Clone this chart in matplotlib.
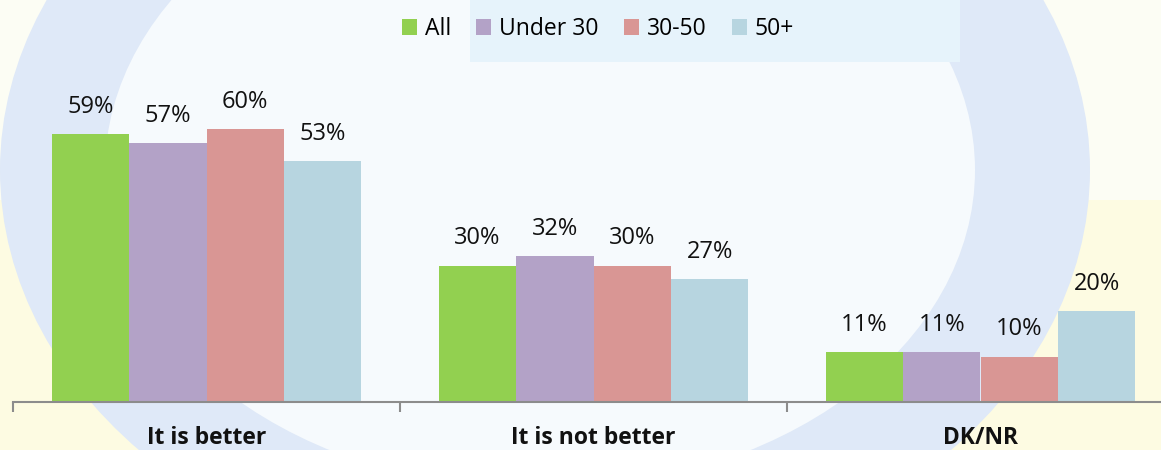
import numpy as np
from matplotlib import pyplot as plt
from matplotlib.patches import Ellipse, Rectangle

categories = ['It is better', 'It is not better', 'DK/NR']
series_names = ['All', 'Under 30', '30-50', '50+']
values_all = [59, 30, 11]
values_under30 = [57, 32, 11]
values_30_50 = [60, 30, 10]
values_50plus = [53, 27, 20]

series_values = [values_all, values_under30, values_30_50, values_50plus]
colors = ['#92D050', '#B3A2C7', '#D99694', '#B7D5E0']

plt.rcParams['font.family'] = ['Open Sans', 'DejaVu Sans']

W, H = 1161, 450
fig = plt.figure(figsize=(W / 100, H / 100), dpi=100)
fig.patch.set_facecolor('#fdfbe2')

# faint watermark-like background: pale yellow outside, light blue ring, whitish inside
bg = fig.add_axes([0, 0, 1, 1], zorder=-10)
bg.set_xlim(0, W)
bg.set_ylim(H, 0)
bg.axis('off')
bg.add_patch(Rectangle((0, 0), W, 200, color='#fcfdf4', lw=0))
bg.add_patch(Ellipse((545, 170), 1090, 840, color='#dfe9f8', lw=0))
bg.add_patch(Ellipse((540, 170), 870, 640, color='#f6fafd', lw=0))
bg.add_patch(Rectangle((470, 0), 490, 62, color='#e6f3fb', lw=0))

# plot area: left edge at x=13px, baseline at y=402px
left = 13 / W
bottom = (H - 402) / H
ax = fig.add_axes([left, bottom, 1 - left, 318.5 / H])
ax.patch.set_alpha(0)

n_series = len(series_values)
bar_w = 0.2
x = np.arange(len(categories))
for i, (vals, name, col) in enumerate(zip(series_values, series_names, colors)):
    pos = x + (i - (n_series - 1) / 2) * bar_w
    bars = ax.bar(pos, vals, width=bar_w, color=col, label=name, edgecolor='none')
    for b, v in zip(bars, vals):
        ax.text(b.get_x() + b.get_width() / 2, v + 3.3, f'{v}%',
                ha='center', va='bottom', fontsize=17, color='#111111')

for s in ['top', 'right', 'left']:
    ax.spines[s].set_visible(False)
ax.spines['bottom'].set_color('#8c8c8c')
ax.spines['bottom'].set_linewidth(1.5)
ax.set_yticks([])

ax.set_xticks([-0.5, 0.5, 1.5])
ax.set_xticklabels([])
ax.tick_params(axis='x', which='major', length=7, width=1.5, color='#8c8c8c', direction='out')
ax.set_xticks(x, minor=True)
ax.set_xticklabels(categories, minor=True, fontsize=16.5, fontweight='bold', color='#111111')
ax.tick_params(axis='x', which='minor', length=0, pad=17.5)

ax.set_xlim(-0.5, -0.5 + (W - 13) / 387)
ax.set_ylim(0, 70)

fig.legend(loc='center', bbox_to_anchor=(598 / W, 1 - 29 / H), ncol=4, frameon=False,
           fontsize=16.5, handlelength=0.65, handleheight=0.65, handletextpad=0.35,
           columnspacing=1.1)

fig.savefig('out.png', dpi=100)
